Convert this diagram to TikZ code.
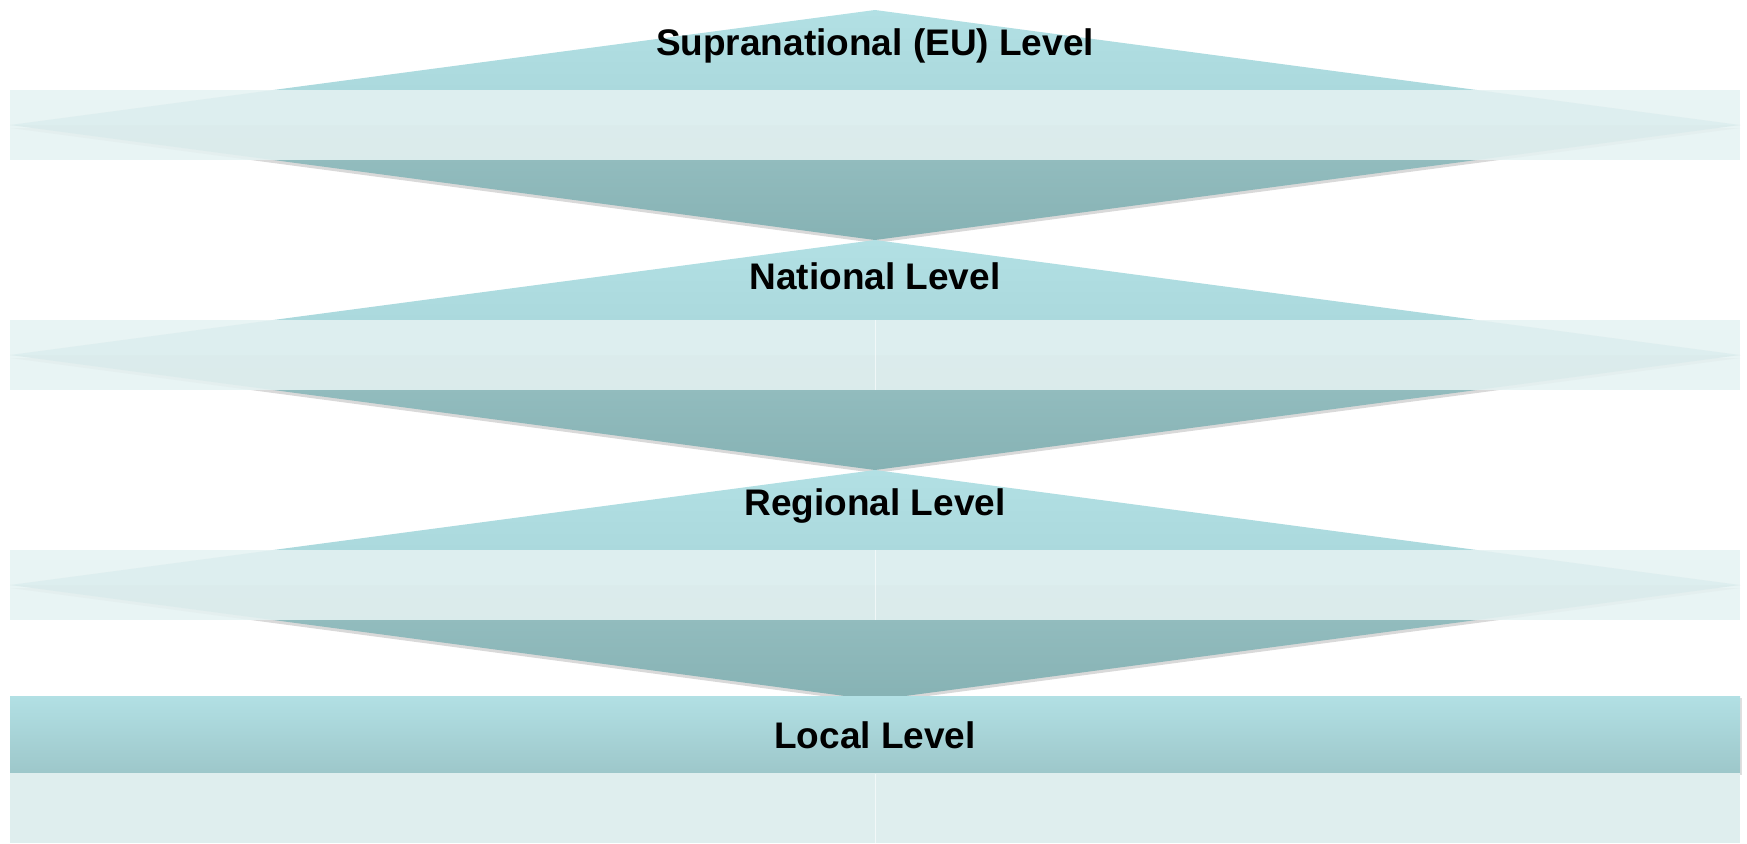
\documentclass[tikz,border=0pt]{standalone}
\usepackage{fontspec}
\setmainfont{Liberation Sans}
\usetikzlibrary{shadows}

\definecolor{tealtop}{RGB}{178,224,228}
\definecolor{tealmid}{RGB}{168,214,218}
\definecolor{tealdark}{RGB}{151,192,194}
\definecolor{tealdeep}{RGB}{134,178,180}
\definecolor{bandfill}{RGB}{229,242,242}
\definecolor{localband}{RGB}{223,238,238}
\definecolor{localbot}{RGB}{157,199,202}

\tikzset{
  upper/.style={top color=tealtop, bottom color=tealmid},
  lower/.style={top color=tealdark, bottom color=tealdeep,
    drop shadow={shadow xshift=0pt, shadow yshift=-3pt, opacity=0.3}},
  band/.style={fill=bandfill, fill opacity=0.88},
  divider/.style={draw=white, opacity=0.6, line width=1pt},
  levellabel/.style={align=center, font=\bfseries\fontsize{37}{44}\selectfont}
}

\begin{document}
\begin{tikzpicture}[x=1pt, y=-1pt]
\useasboundingbox (0,0) rectangle (1747,843);

% three diamonds with their bands
\foreach \cy/\name/\txt in {125/supra/{Supranational (EU) Level}, 355/nat/{National Level}, 585/reg/{Regional Level}}{
  \shade[lower] (10,\cy) -- (1740,\cy) -- (875,\cy+115) -- cycle;
  \shade[upper] (10,\cy) -- (875,\cy-115) -- (1740,\cy) -- cycle;
  \fill[band] (10,\cy-35) rectangle (1740,\cy+35);
  \node[levellabel] (\name) at (875,\cy-79) {\txt};
}
\draw[divider] (875,320) -- (875,390);
\draw[divider] (875,550) -- (875,620);

% local level
\shade[top color=tealtop, bottom color=localbot,
  drop shadow={shadow xshift=2pt, shadow yshift=-2pt, opacity=0.25}]
  (10,696) rectangle (1740,773);
\fill[localband] (10,773) rectangle (1740,843);
\draw[divider] (875,774) -- (875,843);
\node[levellabel] (local) at (875,735) {Local Level};
\end{tikzpicture}
\end{document}
